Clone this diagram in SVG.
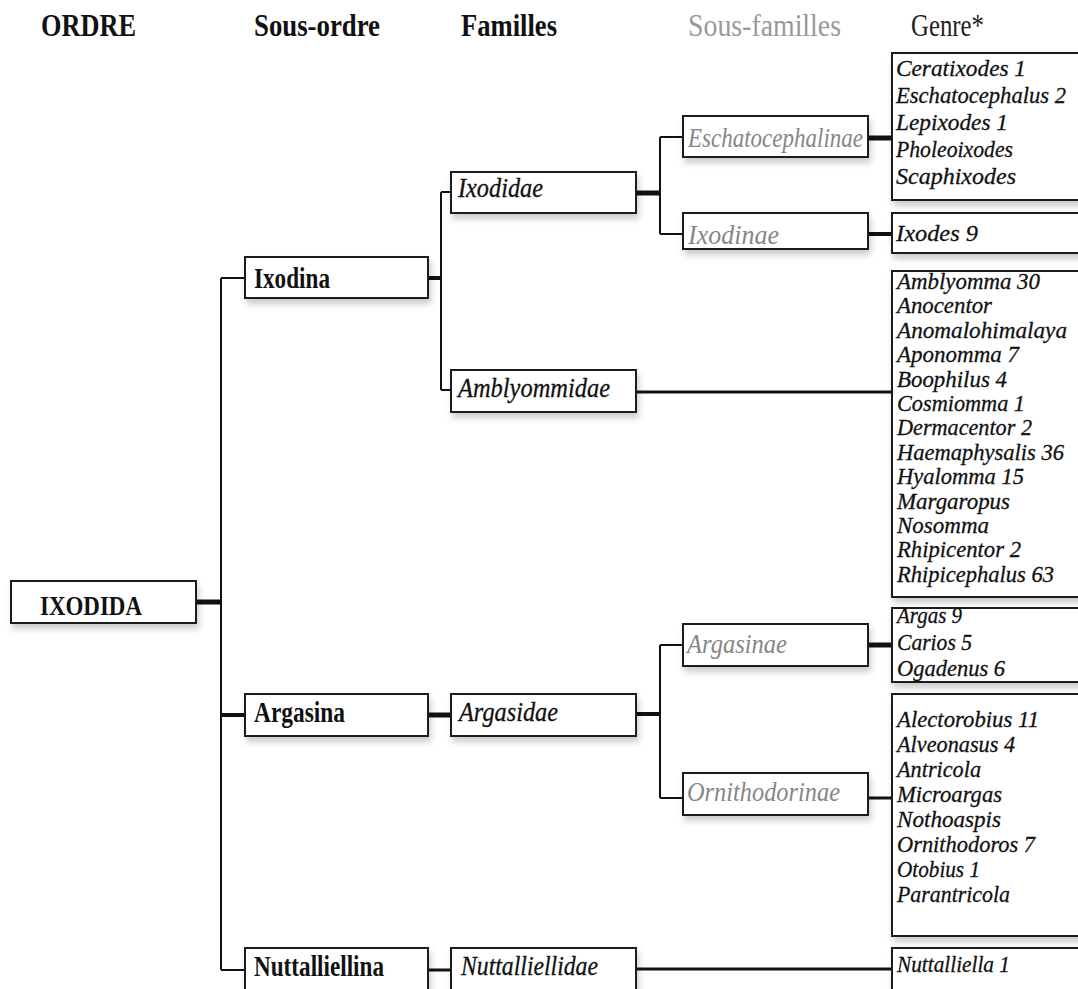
<svg xmlns="http://www.w3.org/2000/svg" width="1078" height="989" viewBox="0 0 1078 989">
<style>
  text { font-family: "Liberation Serif", "Times New Roman", serif; }
  .box { fill: #fff; stroke: #1a1a1a; stroke-width: 2; filter: url(#sh); }
  .hdr { font-size: 31px; font-weight: bold; fill: #111; }
  .hdr2 { font-size: 31px; fill: #999; }
  .hdr3 { font-size: 31px; fill: #222; }
  .so { font-size: 29px; font-weight: bold; fill: #111; }
  .ord { font-size: 27px; font-weight: bold; fill: #111; }
  .fam { font-size: 27px; font-style: italic; fill: #111; stroke: #111; stroke-width: 0.3; }
  .sf { font-size: 27px; font-style: italic; fill: #868686; }
  .gen { font-size: 24px; font-style: italic; fill: #111; stroke: #111; stroke-width: 0.3; }
  .c { fill: none; stroke: #111; stroke-linecap: butt; }
  .w2 { stroke-width: 2; }
  .w3 { stroke-width: 3; }
  .w4 { stroke-width: 4; }
  .w5 { stroke-width: 5; }
</style>
<defs>
  <filter id="sh" x="-10%" y="-20%" width="125%" height="160%">
    <feDropShadow dx="2" dy="5" stdDeviation="3" flood-color="#000" flood-opacity="0.2"/>
  </filter>
</defs>
<rect x="0" y="0" width="1078" height="989" fill="#fff"/>

<g id="headers">
  <text class="hdr" x="41" y="36" textLength="95" lengthAdjust="spacingAndGlyphs">ORDRE</text>
  <text class="hdr" x="254" y="36" textLength="126" lengthAdjust="spacingAndGlyphs">Sous-ordre</text>
  <text class="hdr" x="461" y="36" textLength="96" lengthAdjust="spacingAndGlyphs">Familles</text>
  <text class="hdr2" x="688" y="36" textLength="153" lengthAdjust="spacingAndGlyphs">Sous-familles</text>
  <text class="hdr3" x="911" y="36" textLength="73" lengthAdjust="spacingAndGlyphs">Genre*</text>
</g>

<g id="connectors">
  <path class="c w5" d="M196,602 H221"/>
  <path class="c w2" d="M221,278 V970"/>
  <path class="c w2" d="M221,278 H245"/>
  <path class="c w4" d="M221,715 H245"/>
  <path class="c w2" d="M221,970 H245"/>
  <path class="c w4" d="M428,278 H441"/>
  <path class="c w2" d="M441,192 V390"/>
  <path class="c w2" d="M441,192 H451"/>
  <path class="c w2" d="M441,390 H451"/>
  <path class="c w5" d="M428,715 H451"/>
  <path class="c w3" d="M428,970 H451"/>
  <path class="c w5" d="M636,193 H660"/>
  <path class="c w2" d="M660,137 V234"/>
  <path class="c w2" d="M660,137 H683"/>
  <path class="c w2" d="M660,234 H683"/>
  <path class="c w5" d="M868,138 H892"/>
  <path class="c w4" d="M868,234 H892"/>
  <path class="c w3" d="M636,392 H892"/>
  <path class="c w4" d="M636,714 H660"/>
  <path class="c w2" d="M660,645 V798"/>
  <path class="c w2" d="M660,645 H683"/>
  <path class="c w2" d="M660,798 H683"/>
  <path class="c w5" d="M868,645 H892"/>
  <path class="c w3" d="M868,798 H892"/>
  <path class="c w3" d="M636,969 H892"/>
</g>

<g id="n-ixodida">
  <rect class="box" x="11" y="581" width="185" height="42"/>
  <text class="ord" x="40" y="615" textLength="102" lengthAdjust="spacingAndGlyphs">IXODIDA</text>
</g>

<g id="n-ixodina">
  <rect class="box" x="245" y="257" width="183" height="41"/>
  <text class="so" x="254" y="288" textLength="76" lengthAdjust="spacingAndGlyphs">Ixodina</text>
</g>
<g id="n-argasina">
  <rect class="box" x="245" y="694" width="183" height="42"/>
  <text class="so" x="254" y="722" textLength="91" lengthAdjust="spacingAndGlyphs">Argasina</text>
</g>
<g id="n-nuttalliellina">
  <rect class="box" x="245" y="948" width="183" height="60"/>
  <text class="so" x="254" y="976" textLength="130" lengthAdjust="spacingAndGlyphs">Nuttalliellina</text>
</g>

<g id="n-ixodidae">
  <rect class="box" x="451" y="172" width="185" height="41"/>
  <text class="fam" x="458" y="197" textLength="85" lengthAdjust="spacingAndGlyphs">Ixodidae</text>
</g>
<g id="n-amblyommidae">
  <rect class="box" x="451" y="370" width="185" height="42"/>
  <text class="fam" x="458" y="397" textLength="152" lengthAdjust="spacingAndGlyphs">Amblyommidae</text>
</g>
<g id="n-argasidae">
  <rect class="box" x="451" y="694" width="185" height="42"/>
  <text class="fam" x="459" y="721" textLength="99" lengthAdjust="spacingAndGlyphs">Argasidae</text>
</g>
<g id="n-nuttalliellidae">
  <rect class="box" x="451" y="948" width="185" height="60"/>
  <text class="fam" x="461" y="975" textLength="137" lengthAdjust="spacingAndGlyphs">Nuttalliellidae</text>
</g>

<g id="n-eschatocephalinae">
  <rect class="box" x="683" y="116" width="185" height="41"/>
  <text class="sf" x="688" y="147" textLength="175" lengthAdjust="spacingAndGlyphs">Eschatocephalinae</text>
</g>
<g id="n-ixodinae">
  <rect class="box" x="683" y="213" width="185" height="36"/>
  <text class="sf" x="688" y="244" textLength="91" lengthAdjust="spacingAndGlyphs">Ixodinae</text>
</g>
<g id="n-argasinae">
  <rect class="box" x="683" y="624" width="185" height="42"/>
  <text class="sf" x="687" y="653" textLength="100" lengthAdjust="spacingAndGlyphs">Argasinae</text>
</g>
<g id="n-ornithodorinae">
  <rect class="box" x="683" y="773" width="185" height="42"/>
  <text class="sf" x="687" y="801" textLength="153" lengthAdjust="spacingAndGlyphs">Ornithodorinae</text>
</g>

<g id="g-eschatocephalinae">
  <rect class="box" x="892" y="53" width="200" height="147"/>
  <text class="gen" x="896" y="76" textLength="130" lengthAdjust="spacingAndGlyphs">Ceratixodes 1</text>
  <text class="gen" x="896" y="103" textLength="170" lengthAdjust="spacingAndGlyphs">Eschatocephalus 2</text>
  <text class="gen" x="896" y="130" textLength="112" lengthAdjust="spacingAndGlyphs">Lepixodes 1</text>
  <text class="gen" x="896" y="157" textLength="117" lengthAdjust="spacingAndGlyphs">Pholeoixodes</text>
  <text class="gen" x="896" y="184" textLength="120" lengthAdjust="spacingAndGlyphs">Scaphixodes</text>
</g>
<g id="g-ixodinae">
  <rect class="box" x="892" y="213" width="200" height="40"/>
  <text class="gen" x="896" y="241" textLength="82" lengthAdjust="spacingAndGlyphs">Ixodes 9</text>
</g>
<g id="g-amblyommidae">
  <rect class="box" x="892" y="271" width="200" height="326"/>
  <text class="gen" x="897" y="289" textLength="143" lengthAdjust="spacingAndGlyphs">Amblyomma 30</text>
  <text class="gen" x="897" y="313.4" textLength="95" lengthAdjust="spacingAndGlyphs">Anocentor</text>
  <text class="gen" x="897" y="337.8" textLength="170" lengthAdjust="spacingAndGlyphs">Anomalohimalaya</text>
  <text class="gen" x="897" y="362.2" textLength="122" lengthAdjust="spacingAndGlyphs">Aponomma 7</text>
  <text class="gen" x="897" y="386.6" textLength="110" lengthAdjust="spacingAndGlyphs">Boophilus 4</text>
  <text class="gen" x="897" y="411" textLength="128" lengthAdjust="spacingAndGlyphs">Cosmiomma 1</text>
  <text class="gen" x="897" y="435.4" textLength="135" lengthAdjust="spacingAndGlyphs">Dermacentor 2</text>
  <text class="gen" x="897" y="459.8" textLength="167" lengthAdjust="spacingAndGlyphs">Haemaphysalis 36</text>
  <text class="gen" x="897" y="484.2" textLength="127" lengthAdjust="spacingAndGlyphs">Hyalomma 15</text>
  <text class="gen" x="897" y="508.6" textLength="113" lengthAdjust="spacingAndGlyphs">Margaropus</text>
  <text class="gen" x="897" y="533" textLength="92" lengthAdjust="spacingAndGlyphs">Nosomma</text>
  <text class="gen" x="897" y="557.4" textLength="124" lengthAdjust="spacingAndGlyphs">Rhipicentor 2</text>
  <text class="gen" x="897" y="581.8" textLength="157" lengthAdjust="spacingAndGlyphs">Rhipicephalus 63</text>
</g>
<g id="g-argasinae">
  <rect class="box" x="892" y="608" width="200" height="74"/>
  <text class="gen" x="897" y="623" textLength="65" lengthAdjust="spacingAndGlyphs">Argas 9</text>
  <text class="gen" x="897" y="650" textLength="75" lengthAdjust="spacingAndGlyphs">Carios 5</text>
  <text class="gen" x="897" y="676" textLength="108" lengthAdjust="spacingAndGlyphs">Ogadenus 6</text>
</g>
<g id="g-ornithodorinae">
  <rect class="box" x="892" y="694" width="200" height="242"/>
  <text class="gen" x="897" y="727" textLength="142" lengthAdjust="spacingAndGlyphs">Alectorobius 11</text>
  <text class="gen" x="897" y="752" textLength="118" lengthAdjust="spacingAndGlyphs">Alveonasus 4</text>
  <text class="gen" x="897" y="777" textLength="84" lengthAdjust="spacingAndGlyphs">Antricola</text>
  <text class="gen" x="897" y="802" textLength="105" lengthAdjust="spacingAndGlyphs">Microargas</text>
  <text class="gen" x="897" y="827" textLength="104" lengthAdjust="spacingAndGlyphs">Nothoaspis</text>
  <text class="gen" x="897" y="852" textLength="138" lengthAdjust="spacingAndGlyphs">Ornithodoros 7</text>
  <text class="gen" x="897" y="877" textLength="83" lengthAdjust="spacingAndGlyphs">Otobius 1</text>
  <text class="gen" x="897" y="902" textLength="113" lengthAdjust="spacingAndGlyphs">Parantricola</text>
</g>
<g id="g-nuttalliellidae">
  <rect class="box" x="892" y="948" width="200" height="60"/>
  <text class="gen" x="897" y="972" textLength="113" lengthAdjust="spacingAndGlyphs">Nuttalliella 1</text>
</g>
</svg>
